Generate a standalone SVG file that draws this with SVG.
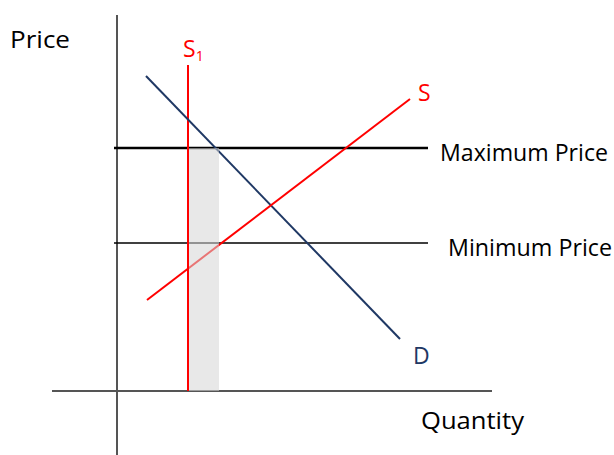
<svg xmlns="http://www.w3.org/2000/svg" width="614" height="455" viewBox="0 0 614 455">
<style>
text{font-family:"Open Sans","Liberation Sans",Arial,sans-serif;font-size:23px;fill:#000}
.red{fill:#ff0000}
.blue{fill:#1f3864}
</style>
<rect width="614" height="455" fill="#fff"/>
<g id="axes">
<line x1="117" y1="15" x2="117" y2="455" stroke="#555" stroke-width="2"/>
<line x1="52" y1="391" x2="492" y2="391" stroke="#555" stroke-width="2"/>
</g>
<g id="connectors">
<line id="max-price" x1="114" y1="148" x2="428" y2="148" stroke="#000" stroke-width="2.5"/>
<line id="min-price" x1="114" y1="243" x2="428" y2="243" stroke="#000" stroke-width="1.5"/>
<line id="S1" x1="188" y1="65" x2="188" y2="391" stroke="#ff0000" stroke-width="2"/>
<line id="D" x1="146" y1="76" x2="400" y2="339" stroke="#1f3864" stroke-width="2"/>
<line id="S" x1="147" y1="300" x2="410" y2="99" stroke="#ff0000" stroke-width="2"/>
</g>
<g id="shortage">
<rect x="189" y="148" width="30" height="243" fill="#d6d6d6" fill-opacity="0.55"/>
</g>
<g id="labels">
<text x="10" y="48" textLength="60" lengthAdjust="spacingAndGlyphs">Price</text>
<text class="red" x="183" y="57">S<tspan font-size="14" dy="4">1</tspan></text>
<text class="red" x="418" y="101">S</text>
<text class="blue" x="413" y="364">D</text>
<text x="440" y="161" textLength="168" lengthAdjust="spacingAndGlyphs">Maximum Price</text>
<text x="448" y="256" textLength="164" lengthAdjust="spacingAndGlyphs">Minimum Price</text>
<text x="421" y="429" textLength="103" lengthAdjust="spacingAndGlyphs">Quantity</text>
</g>
</svg>
